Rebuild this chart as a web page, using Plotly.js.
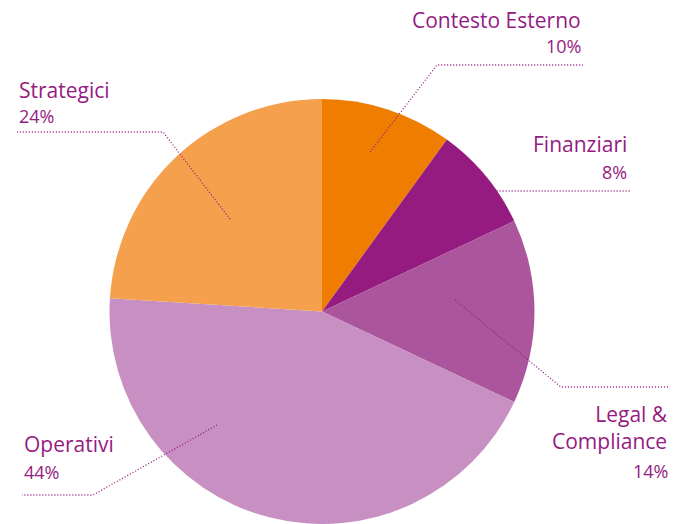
<!DOCTYPE html>
<html><head><meta charset="utf-8">
<script src="https://cdn.plot.ly/plotly-3.0.1.min.js"></script>
<style>html,body{margin:0;padding:0;background:#fff}#c{width:688px;height:524px}</style>
</head><body><div id="c"></div>
<script>
const categories = ["Contesto Esterno", "Finanziari", "Legal & Compliance", "Operativi", "Strategici"];
const labelTexts = ["Contesto Esterno", "Finanziari", "Legal &<br>Compliance", "Operativi", "Strategici"];
const values = [10, 8, 14, 44, 24];
const colors = ["#EF7D00", "#951B81", "#AB559C", "#C78FC2", "#F4A04C"];

const W = 688, H = 524;
const px = x => x / W, py = y => 1 - y / H;
const txtColor = "#951B81";
const font = "Open Sans, Noto Sans, sans-serif";

// label layout (pixel positions): anchor x, align, name y, pct y, leader polyline
const labelLayout = [
  {x: 583, anchor: "right", ny: 20, py: 46, line: [[370,152],[437,65],[583,65]]},
  {x: 629, anchor: "right", ny: 144, py: 172, line: [[470,205],[497,191],[630,191]]},
  {x: 670, anchor: "right", ny: 427, py: 471, line: [[455,300],[561,387],[670,387]]},
  {x: 22, anchor: "left", ny: 444, py: 472, line: [[217,425],[93,495],[22,495]]},
  {x: 17, anchor: "left", ny: 90, py: 116, line: [[230,219],[163,132],[17,132]]}
];

const annotations = [], shapes = [];
categories.forEach((c, i) => {
  const L = labelLayout[i];
  annotations.push({xref:"paper", yref:"paper", x: px(L.x), y: py(L.ny), xanchor: L.anchor, yanchor: "middle",
    text: labelTexts[i], showarrow:false, align: L.anchor,
    font:{family:font, size:21, weight:500, color:txtColor}});
  annotations.push({xref:"paper", yref:"paper", x: px(L.x), y: py(L.py), xanchor: L.anchor, yanchor: "middle",
    text: values[i] + "%", showarrow:false, align: L.anchor, font:{family:font, size:18, color:txtColor}});
  const pts = L.line;
  let path = "M" + px(pts[0][0]) + "," + py(pts[0][1]);
  for (let k = 1; k < pts.length; k++) path += " L" + px(pts[k][0]) + "," + py(pts[k][1]);
  shapes.push({type:"path", xref:"paper", yref:"paper", path: path,
    line:{color:txtColor, width:1.3, dash:"1px,2px"}});
});

const cx = 322, cy = 312, R = 213;
const data = [{
  type: "pie", labels: categories, values: values, sort: false, direction: "clockwise", rotation: 0,
  marker: {colors: colors, line: {width: 0}}, textinfo: "none", hoverinfo: "none",
  domain: {x: [px(cx - R), px(cx + R)], y: [0, (H - cy + R) / H]}
}];
const layout = {width: W, height: H, margin: {l:0, r:0, t:0, b:0}, showlegend: false,
  paper_bgcolor: "#fff", annotations: annotations, shapes: shapes};
Plotly.newPlot("c", data, layout, {staticPlot: true});
</script></body></html>
